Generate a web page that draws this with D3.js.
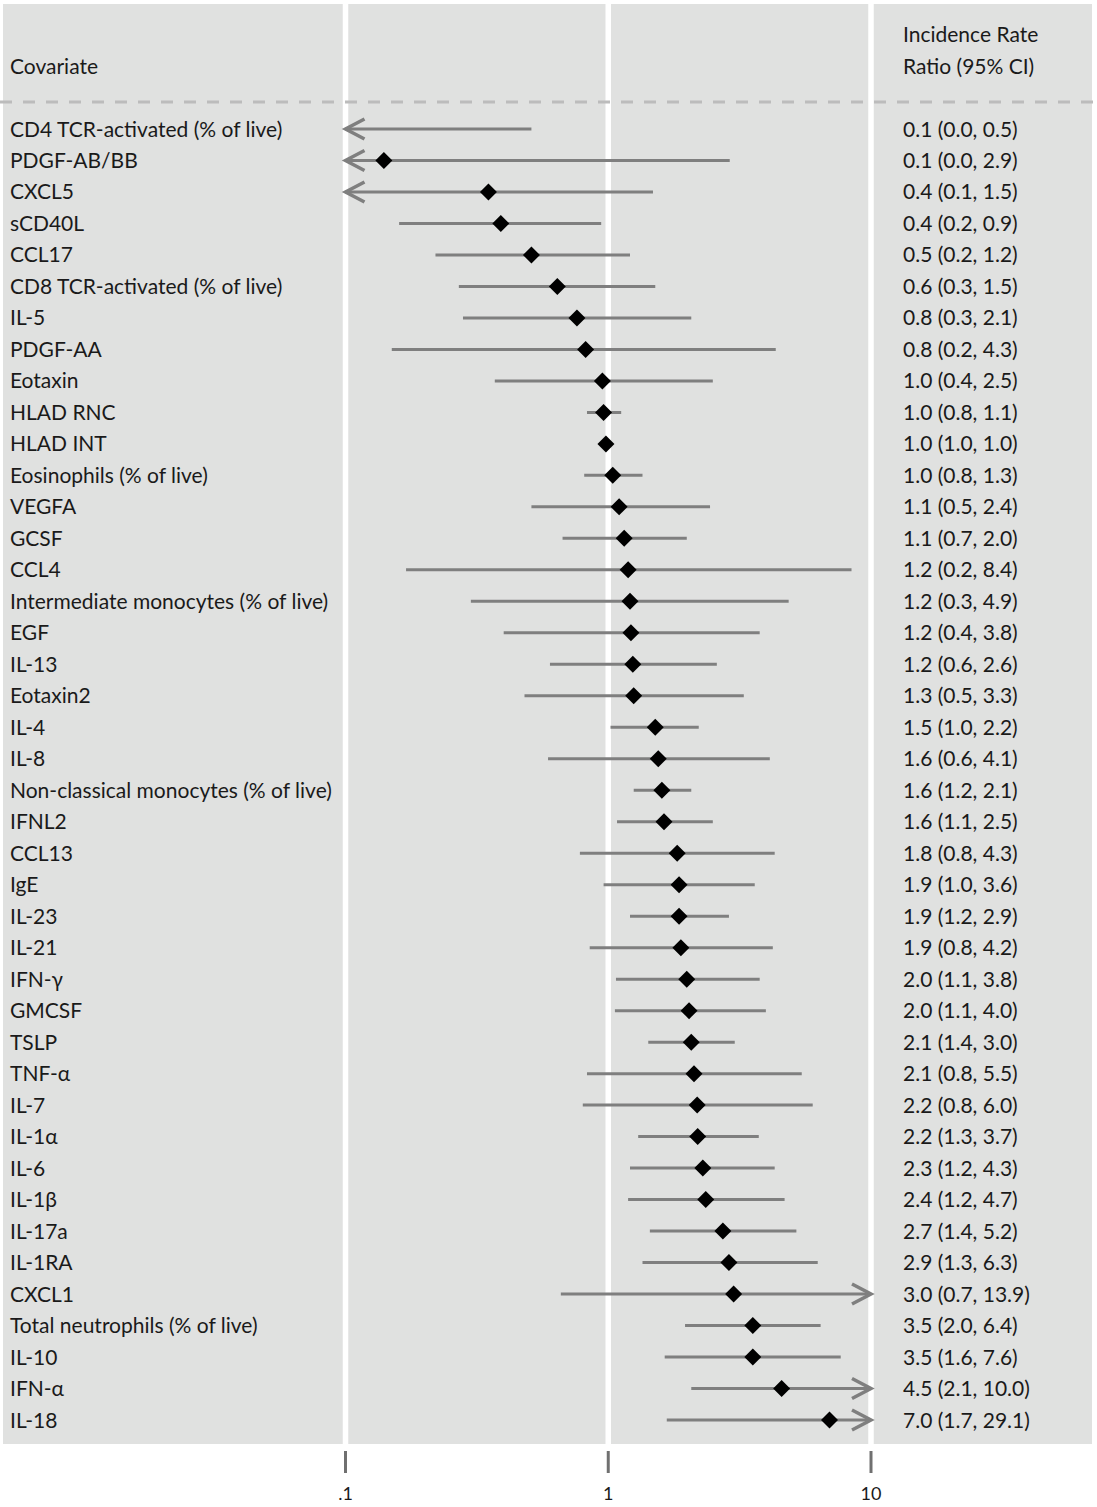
<!DOCTYPE html>
<html>
<head>
<meta charset="utf-8">
<script src="https://cdn.jsdelivr.net/npm/d3@7"></script>
<style>
  html, body { margin: 0; padding: 0; background: #fff; }
  svg { display: block; }
  text { font-family: "Lato", "Open Sans", "DejaVu Sans", sans-serif; fill: #1a1a1a; }
</style>
</head>
<body>
<svg id="chart" width="1097" height="1507"></svg>
<script>
const covariates = ["CD4 TCR-activated (% of live)","PDGF-AB/BB","CXCL5","sCD40L","CCL17","CD8 TCR-activated (% of live)","IL-5","PDGF-AA","Eotaxin","HLAD RNC","HLAD INT","Eosinophils (% of live)","VEGFA","GCSF","CCL4","Intermediate monocytes (% of live)","EGF","IL-13","Eotaxin2","IL-4","IL-8","Non-classical monocytes (% of live)","IFNL2","CCL13","IgE","IL-23","IL-21","IFN-γ","GMCSF","TSLP","TNF-α","IL-7","IL-1α","IL-6","IL-1β","IL-17a","IL-1RA","CXCL1","Total neutrophils (% of live)","IL-10","IFN-α","IL-18"];
const estimate = [0.06,0.14,0.35,0.39,0.51,0.64,0.76,0.82,0.95,0.96,0.98,1.04,1.1,1.15,1.19,1.21,1.22,1.24,1.25,1.51,1.55,1.6,1.63,1.83,1.86,1.86,1.89,1.99,2.03,2.07,2.12,2.18,2.19,2.29,2.35,2.73,2.88,3.0,3.55,3.55,4.57,6.95];
const lower = [0.02,0.03,0.08,0.16,0.22,0.27,0.28,0.15,0.37,0.83,0.97,0.81,0.51,0.67,0.17,0.3,0.4,0.6,0.48,1.02,0.59,1.25,1.08,0.78,0.96,1.21,0.85,1.07,1.06,1.42,0.83,0.8,1.3,1.21,1.19,1.44,1.35,0.66,1.96,1.64,2.07,1.67];
const upper = [0.51,2.9,1.48,0.94,1.21,1.51,2.07,4.34,2.5,1.12,1.01,1.35,2.44,1.99,8.43,4.86,3.77,2.59,3.28,2.21,4.12,2.07,2.5,4.3,3.61,2.88,4.23,3.77,3.98,3.03,5.45,6.0,3.74,4.3,4.69,5.2,6.27,13.9,6.43,7.67,10.04,29.1];
const irrLabels = ["0.1 (0.0, 0.5)","0.1 (0.0, 2.9)","0.4 (0.1, 1.5)","0.4 (0.2, 0.9)","0.5 (0.2, 1.2)","0.6 (0.3, 1.5)","0.8 (0.3, 2.1)","0.8 (0.2, 4.3)","1.0 (0.4, 2.5)","1.0 (0.8, 1.1)","1.0 (1.0, 1.0)","1.0 (0.8, 1.3)","1.1 (0.5, 2.4)","1.1 (0.7, 2.0)","1.2 (0.2, 8.4)","1.2 (0.3, 4.9)","1.2 (0.4, 3.8)","1.2 (0.6, 2.6)","1.3 (0.5, 3.3)","1.5 (1.0, 2.2)","1.6 (0.6, 4.1)","1.6 (1.2, 2.1)","1.6 (1.1, 2.5)","1.8 (0.8, 4.3)","1.9 (1.0, 3.6)","1.9 (1.2, 2.9)","1.9 (0.8, 4.2)","2.0 (1.1, 3.8)","2.0 (1.1, 4.0)","2.1 (1.4, 3.0)","2.1 (0.8, 5.5)","2.2 (0.8, 6.0)","2.2 (1.3, 3.7)","2.3 (1.2, 4.3)","2.4 (1.2, 4.7)","2.7 (1.4, 5.2)","2.9 (1.3, 6.3)","3.0 (0.7, 13.9)","3.5 (2.0, 6.4)","3.5 (1.6, 7.6)","4.5 (2.1, 10.0)","7.0 (1.7, 29.1)"];
const tickValues = [0.1, 1, 10];
const tickLabels = [".1", "1", "10"];

const svg = d3.select("#chart");
const W = 1097;
const panel = {x0: 3, x1: 1092, y0: 4, y1: 1444};

const x = d3.scaleLog().domain([0.1, 10]).range([345.5, 871]);
const y = d3.scalePoint().domain(d3.range(covariates.length)).range([129, 1420]);
const clamp = v => Math.max(0.1, Math.min(10, v));
const fs = 21;

// background panel
svg.append("rect").attr("x", panel.x0).attr("y", panel.y0)
  .attr("width", panel.x1 - panel.x0).attr("height", panel.y1 - panel.y0)
  .attr("fill", "#e0e1e0");

// white vertical grid lines
svg.append("g").selectAll("line").data(tickValues).join("line")
  .attr("x1", d => x(d)).attr("x2", d => x(d))
  .attr("y1", 0).attr("y2", panel.y1)
  .attr("stroke", "#ffffff").attr("stroke-width", 5.5);

// dashed separator
svg.append("line").attr("x1", 0).attr("x2", W).attr("y1", 102).attr("y2", 102)
  .attr("stroke", "#bcbcbc").attr("stroke-width", 3).attr("stroke-dasharray", "12,11");

// headers
svg.append("text").attr("x", 10).attr("y", 74).attr("font-size", fs).text("Covariate");
svg.append("text").attr("x", 903).attr("y", 42).attr("font-size", fs).text("Incidence Rate");
svg.append("text").attr("x", 903).attr("y", 74).attr("font-size", fs).text("Ratio (95% CI)");

const rows = covariates.map((c, i) => ({c, i, est: estimate[i], lo: lower[i], hi: upper[i], lab: irrLabels[i]}));

// labels
svg.append("g").selectAll("text").data(rows).join("text")
  .attr("x", 10).attr("y", d => y(d.i) + 7.5).attr("font-size", fs).text(d => d.c);
svg.append("g").selectAll("text").data(rows).join("text")
  .attr("x", 903).attr("y", d => y(d.i) + 7.5).attr("font-size", fs).text(d => d.lab);

const gray = "#7f7f7f";
// CI lines
svg.append("g").selectAll("line").data(rows).join("line")
  .attr("x1", d => x(clamp(d.lo))).attr("x2", d => x(clamp(d.hi)))
  .attr("y1", d => y(d.i)).attr("y2", d => y(d.i))
  .attr("stroke", gray).attr("stroke-width", 3);

// arrowheads
const ah = 19, av = 10;
svg.append("g").selectAll("path").data(rows.filter(d => d.lo < 0.1)).join("path")
  .attr("d", d => { const tx = x(0.1), ty = y(d.i); return `M${tx + ah},${ty - av}L${tx},${ty}L${tx + ah},${ty + av}`; })
  .attr("fill", "none").attr("stroke", gray).attr("stroke-width", 3.5);
svg.append("g").selectAll("path").data(rows.filter(d => d.hi > 10)).join("path")
  .attr("d", d => { const tx = x(10), ty = y(d.i); return `M${tx - ah},${ty - av}L${tx},${ty}L${tx - ah},${ty + av}`; })
  .attr("fill", "none").attr("stroke", gray).attr("stroke-width", 3.5);

// diamonds
const r = 8.5;
svg.append("g").selectAll("path").data(rows.filter(d => d.est >= 0.1 && d.est <= 10)).join("path")
  .attr("d", d => { const cx = x(d.est), cy = y(d.i); return `M${cx},${cy - r}L${cx + r},${cy}L${cx},${cy + r}L${cx - r},${cy}Z`; })
  .attr("fill", "#000");

// bottom axis ticks
svg.append("g").selectAll("line").data(tickValues).join("line")
  .attr("x1", d => x(d)).attr("x2", d => x(d)).attr("y1", 1451).attr("y2", 1473)
  .attr("stroke", "#707070").attr("stroke-width", 3);
svg.append("g").selectAll("text").data(tickValues).join("text")
  .attr("x", d => x(d)).attr("y", 1500).attr("text-anchor", "middle").attr("font-size", 18)
  .attr("fill", "#444").text((d, i) => tickLabels[i]);
</script>
</body>
</html>
